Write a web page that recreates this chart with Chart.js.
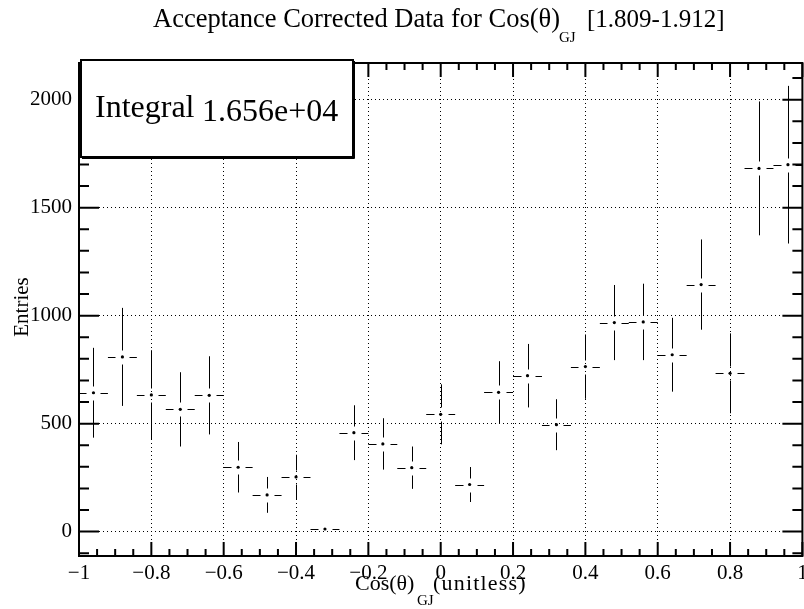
<!DOCTYPE html>
<html>
<head>
<meta charset="utf-8">
<script src="https://cdn.jsdelivr.net/npm/chart.js@4.4.0/dist/chart.umd.min.js"></script>
<style>
  html, body { margin: 0; padding: 0; background: #fff; }
  #wrap { width: 804px; height: 609px; }
</style>
</head>
<body>
<div id="wrap"><canvas id="c" width="804" height="609"></canvas></div>
<script>
// Histogram bins (centre, content, error)
const binCenters = [-0.96, -0.88, -0.80, -0.72, -0.64, -0.56, -0.48, -0.40, -0.32, -0.24,
                    -0.16, -0.08, 0.00, 0.08, 0.16, 0.24, 0.32, 0.40, 0.48, 0.56,
                    0.64, 0.72, 0.80, 0.88, 0.96];
const entries = [643, 809, 633, 566, 631, 298, 170, 253, 12, 458,
                 406, 296, 543, 218, 645, 722, 495, 764, 968, 971,
                 819, 1144, 733, 1682, 1699];
const errors = [208, 227, 207, 172, 181, 117, 83, 103, 8, 127,
                119, 98, 139, 81, 144, 147, 118, 149, 174, 177,
                171, 209, 185, 310, 365];
const binHalfWidth = 0.04;

const xTicks = [-1, -0.8, -0.6, -0.4, -0.2, 0, 0.2, 0.4, 0.6, 0.8, 1];
const xTickLabels = ['\u22121', '\u22120.8', '\u22120.6', '\u22120.4', '\u22120.2', '0', '0.2', '0.4', '0.6', '0.8', '1'];
const yTicks = [0, 500, 1000, 1500, 2000];
const yTickLabels = ['0', '500', '1000', '1500', '2000'];

const SERIF = "'Liberation Serif', 'DejaVu Serif', serif";

// error bars like ROOT's E option: lines broken around the marker
const errorBars = {
    id: 'errorBars',
    beforeDatasetsDraw(chart) {
        const { ctx, scales: { x, y } } = chart;
        const gap = 7;
        ctx.save();
        ctx.strokeStyle = '#000';
        ctx.lineWidth = 1;
        ctx.beginPath();
        binCenters.forEach((c, i) => {
            const px = Math.round(x.getPixelForValue(c)) + 0.5;
            const py = Math.round(y.getPixelForValue(entries[i])) + 0.5;
            const xl = x.getPixelForValue(c - binHalfWidth);
            const xr = x.getPixelForValue(c + binHalfWidth);
            const yt = y.getPixelForValue(entries[i] + errors[i]);
            const yb = y.getPixelForValue(entries[i] - errors[i]);
            ctx.moveTo(xl, py); ctx.lineTo(px - gap, py);
            ctx.moveTo(px + gap, py); ctx.lineTo(xr, py);
            if (py - yt > gap) { ctx.moveTo(px, yt); ctx.lineTo(px, py - gap); }
            if (yb - py > gap) { ctx.moveTo(px, py + gap); ctx.lineTo(px, yb); }
        });
        ctx.stroke();
        ctx.restore();
    }
};

// frame, inner tick marks, stats box and titles
const rootFrame = {
    id: 'rootFrame',
    afterDraw(chart) {
        const { ctx, chartArea: a, scales: { x, y } } = chart;
        ctx.save();
        ctx.strokeStyle = '#000';
        ctx.lineWidth = 2;
        ctx.beginPath();
        for (let k = 0; k <= 40; k++) {
            const px = x.getPixelForValue(-1 + k * 0.05);
            const len = k % 4 === 0 ? 14 : 7;
            ctx.moveTo(px, a.bottom); ctx.lineTo(px, a.bottom - len);
            ctx.moveTo(px, a.top); ctx.lineTo(px, a.top + len);
        }
        for (let k = -1; k <= 21; k++) {
            const py = y.getPixelForValue(k * 100);
            const len = k % 5 === 0 ? 20 : 10;
            ctx.moveTo(a.left, py); ctx.lineTo(a.left + len, py);
            ctx.moveTo(a.right, py); ctx.lineTo(a.right - len, py);
        }
        ctx.stroke();
        ctx.strokeRect(a.left, a.top, a.right - a.left, a.bottom - a.top);

        // Integral box
        ctx.fillStyle = '#fff';
        ctx.fillRect(81, 60, 272, 97);
        ctx.lineWidth = 2;
        ctx.strokeRect(81, 60, 272, 97);
        ctx.beginPath();
        ctx.moveTo(354.5, 61); ctx.lineTo(354.5, 158.5); ctx.lineTo(82, 158.5);
        ctx.lineWidth = 1;
        ctx.stroke();
        ctx.fillStyle = '#000';
        ctx.textBaseline = 'alphabetic';
        ctx.textAlign = 'left';
        ctx.font = '32px ' + SERIF;
        ctx.fillText('Integral', 95, 117);
        ctx.fillText('1.656e+04', 202, 121);

        // title
        ctx.font = '26.5px ' + SERIF;
        ctx.fillText('Acceptance Corrected Data for Cos(\u03b8)', 153, 27);
        ctx.font = '15px ' + SERIF;
        ctx.fillText('GJ', 559, 42);
        ctx.font = '25px ' + SERIF;
        ctx.fillText('[1.809-1.912]', 587, 27);

        // x axis title
        ctx.font = '22px ' + SERIF;
        ctx.fillText('Cos(\u03b8)', 355, 590);
        ctx.font = '15px ' + SERIF;
        ctx.fillText('GJ', 417, 605);
        ctx.font = '22px ' + SERIF;
        ctx.letterSpacing = '1.2px';
        ctx.fillText('(unitless)', 433, 590);
        ctx.letterSpacing = '0px';

        // y axis title
        ctx.save();
        ctx.translate(28, 307);
        ctx.rotate(-Math.PI / 2);
        ctx.textAlign = 'center';
        ctx.font = '21px ' + SERIF;
        ctx.fillText('Entries', 0, 0);
        ctx.restore();

        ctx.restore();
    }
};

const gridOpts = { color: '#000', lineWidth: 1, drawTicks: false };
const borderOpts = { display: false, dash: [1, 3] };

new Chart(document.getElementById('c'), {
    type: 'scatter',
    data: {
        datasets: [{
            label: 'Entries',
            data: binCenters.map((c, i) => ({ x: c, y: entries[i] })),
            pointRadius: 1.6,
            pointHoverRadius: 1.6,
            backgroundColor: '#000',
            borderWidth: 0,
            showLine: false
        }]
    },
    options: {
        responsive: false,
        animation: false,
        events: [],
        layout: { padding: { top: 63, right: 1, bottom: 0, left: 0 } },
        plugins: { legend: { display: false }, title: { display: false }, tooltip: { enabled: false } },
        scales: {
            x: {
                type: 'linear',
                min: -1,
                max: 1,
                afterBuildTicks: s => { s.ticks = xTicks.map(v => ({ value: v })); },
                afterFit: s => { s.height = 53; s.paddingLeft = 0; s.paddingRight = 0; },
                grid: gridOpts,
                border: borderOpts,
                ticks: {
                    autoSkip: false,
                    maxRotation: 0,
                    padding: 5,
                    color: '#000',
                    font: { family: SERIF, size: 21 },
                    callback: v => xTickLabels[xTicks.indexOf(v)]
                }
            },
            y: {
                type: 'linear',
                min: -113,
                max: 2170,
                afterBuildTicks: s => { s.ticks = yTicks.map(v => ({ value: v })); },
                afterFit: s => { s.width = 79; s.paddingTop = 0; s.paddingBottom = 0; },
                grid: gridOpts,
                border: borderOpts,
                ticks: {
                    autoSkip: false,
                    padding: 7,
                    color: '#000',
                    font: { family: SERIF, size: 21 },
                    callback: v => yTickLabels[yTicks.indexOf(v)]
                }
            }
        }
    },
    plugins: [errorBars, rootFrame]
});
</script>
</body>
</html>
